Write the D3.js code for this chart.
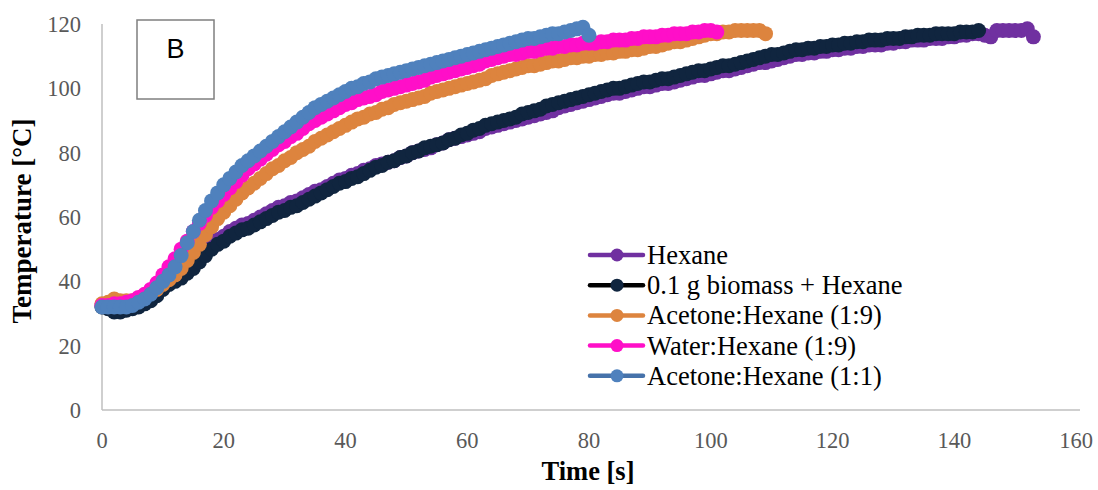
<!DOCTYPE html>
<html>
<head>
<meta charset="utf-8">
<script src="https://cdn.jsdelivr.net/npm/d3@7"></script>
<style>
  body { margin: 0; background: #fff; }
  svg { display: block; }
</style>
</head>
<body>
<div id="chart"></div>
<script>
// temperature readings, one per second starting at t = 0
const hexane = [32.5,32.5,32,32,32,32.5,33,34,35,36.5,38,39.5,41,42.5,44,46,48,50,51.5,53,
  54,55.5,56.5,57.5,58,59,60,61,62,63,63.5,64.5,65,66,67,68,68.5,69.5,70.5,71.5,
  72,73,73.5,74.5,75,76,76.5,77,77.5,78.5,79,80,80.5,81,81.5,82.5,83,84,84.5,85,
  85.5,86,86.5,87.5,88,88.5,89,89.5,90,90.5,91,91.5,92,92.5,93,94,94.5,95,95.5,96,
  96.5,97,97.5,98,98.5,98.5,99,99.5,100,100.5,100.5,101,101.5,101.5,102,102.5,103,103.5,104,104,
  104.5,105,105.5,105.5,106,106.5,107,107.5,108,108,108.5,109,109.5,110,110.5,110.5,111,111,111.5,111.5,
  112,112,112.5,112.5,113,113,113.5,113.5,113.5,114,114,114.5,114.5,115,115,115,115.5,115.5,115.5,116,
  116,116.5,116.5,117,117,116.5,116,118,118,118,118,118,118.5,116];

const biomassHexane = [32,31.5,30.5,30.5,31,31.5,32,33,34,35.5,37.5,39,40,41,42.5,44,46,48,50,51.5,
  52.5,54,55,56,56.5,57.5,58.5,59.5,60.5,61.5,62,63,63.5,64.5,65.5,66.5,67.5,68.5,69.5,70.5,
  71,72,72.5,73.5,74.5,75.5,76,77,77.5,78.5,79,80,80.5,81.5,82,82.5,83,84,84.5,85.5,
  86,87,87.5,88.5,89,89.5,90,90.5,91,92,92.5,93,93.5,94.5,95,95.5,96,96.5,97,97.5,
  98,98.5,99,99.5,100,100,100.5,101,101.5,102,102,102.5,103,103,103.5,104,104.5,105,105.5,105.5,
  106,106.5,107,107,107.5,108,108.5,109,109.5,110,110.5,110.5,111,111.5,112,112,112.5,112.5,113,113,
  113.5,113.5,114,114,114.5,114.5,115,115,115,115.5,115.5,115.5,116,116,116.5,116.5,116.5,117,117,117,
  117,117.5,117.5,117.5,118];

const acetoneHexane19 = [33,33.5,34.5,34,34,34,34.5,35.5,36.5,37.5,39,40.5,42,44,46.5,49,51.5,54.5,57,59.5,
  61.5,63.5,65.5,67.5,69,70.5,72,73.5,75,76,77.5,78.5,80,81,82,83.5,84.5,85.5,86.5,87.5,
  88.5,89.5,90.5,91,92,92.5,93.5,94,95,95.5,96,96.5,97,97.5,98.5,99,99.5,100,100.5,101,
  101.5,102,102.5,103,104,104.5,105,105.5,106,106.5,107,107,107.5,108,108.5,108.5,109,109.5,109.5,110,
  110,110.5,110.5,111,111,111.5,111.5,112,112,112.5,113,113,113.5,114,114.5,114.5,115,115.5,116,116.5,
  117,117,117.5,117.5,118,118,118,118,118,117];

const waterHexane19 = [32.5,32.5,33,33,33.5,34,35,36,37.5,39.5,42,44.5,47,50,52.5,55.5,58,60.5,63,65,
  67,69,71,73,75,76.5,78,79.5,81,82.5,83.5,85,86,87.5,89,90,91,92,93,94,
  95,95.5,96.5,97,97.5,98,99,99.5,100,100.5,101,101.5,102,102.5,103.5,104,104.5,105,105.5,106,
  106.5,107,107.5,108.5,109,109.5,110,110.5,110.5,111,111.5,111.5,112,112.5,112.5,113,113,113.5,113.5,114,
  114,114,114.5,114.5,115,115,115,115.5,115.5,116,116,116,116.5,116.5,117,117,117,117.5,117.5,118,
  118,117.5];

const acetoneHexane11 = [32,32,32,32,32,32.5,33.5,34.5,36,38,40,42,44.5,48,52,55.5,59,62,65,67.5,
  70,72,74,76,77.5,79,80.5,82,83.5,85,86.5,88,89.5,91,92.5,94,95,96,97,98,
  99,100,100.5,101.5,102,103,103.5,104,104.5,105,105.5,106,106.5,107,107.5,108,108.5,109,109.5,110,
  110.5,111,111.5,112,112.5,113,113.5,114,114.5,115,115.5,115.5,116,116.5,117,117,117.5,118,118.5,119,
  116.5];

const seriesNames = ['Hexane', '0.1 g biomass + Hexane', 'Acetone:Hexane (1:9)', 'Water:Hexane (1:9)', 'Acetone:Hexane (1:1)'];
const seriesValues = [hexane, biomassHexane, acetoneHexane19, waterHexane19, acetoneHexane11];
const lineColors = ['#7030a0', '#000000', '#dd843e', '#ff0fc8', '#4672aa'];
const markerColors = ['#7030a0', '#10253f', '#dd843e', '#ff0fc8', '#4f81bd'];

const xTicks = [0, 20, 40, 60, 80, 100, 120, 140, 160];
const yTicks = [0, 20, 40, 60, 80, 100, 120];

const width = 1098, height = 490;
const margin = { left: 102, right: 22, top: 24, bottom: 80 };

const svg = d3.select('#chart').append('svg')
  .attr('width', width)
  .attr('height', height);

const x = d3.scaleLinear().domain([0, 160]).range([margin.left, width - margin.right]);
const y = d3.scaleLinear().domain([0, 120]).range([height - margin.bottom, margin.top]);

// axes lines (no tick marks, like excel)
svg.append('line')
  .attr('x1', x(0)).attr('x2', x(0))
  .attr('y1', y(120)).attr('y2', y(0))
  .attr('stroke', '#bfbfbf').attr('stroke-width', 1.5);
svg.append('line')
  .attr('x1', x(0)).attr('x2', x(160) + 4)
  .attr('y1', y(0)).attr('y2', y(0))
  .attr('stroke', '#bfbfbf').attr('stroke-width', 1.5);

// tick labels
svg.selectAll('.ylab').data(yTicks).enter().append('text')
  .attr('x', x(0) - 21)
  .attr('y', d => y(d) + 8)
  .attr('text-anchor', 'end')
  .attr('font-family', 'Liberation Serif, serif')
  .attr('font-size', 22.5)
  .attr('fill', '#595959')
  .text(d => d);

svg.selectAll('.xlab').data(xTicks).enter().append('text')
  .attr('x', d => x(d))
  .attr('y', y(0) + 38)
  .attr('text-anchor', 'middle')
  .attr('font-family', 'Liberation Serif, serif')
  .attr('font-size', 22.5)
  .attr('fill', '#595959')
  .text(d => d);

// axis titles
svg.append('text')
  .attr('x', x(80) - 1)
  .attr('y', 480)
  .attr('text-anchor', 'middle')
  .attr('font-family', 'Liberation Serif, serif')
  .attr('font-weight', 'bold')
  .attr('font-size', 26.5)
  .text('Time [s]');

svg.append('text')
  .attr('transform', `translate(31, ${y(60) + 4}) rotate(-90)`)
  .attr('text-anchor', 'middle')
  .attr('font-family', 'Liberation Serif, serif')
  .attr('font-weight', 'bold')
  .attr('font-size', 27)
  .text('Temperature [°C]');

// series: line first then markers, series by series
const line = d3.line()
  .x((d, i) => x(i))
  .y(d => y(d));

seriesValues.forEach((vals, k) => {
  const g = svg.append('g');
  g.append('path')
    .attr('d', line(vals))
    .attr('fill', 'none')
    .attr('stroke', lineColors[k])
    .attr('stroke-width', 5)
    .attr('stroke-linejoin', 'round');
  g.selectAll('circle').data(vals).enter().append('circle')
    .attr('cx', (d, i) => x(i))
    .attr('cy', d => y(d))
    .attr('r', 7.5)
    .attr('fill', markerColors[k]);
});

// panel label box
svg.append('rect')
  .attr('x', 137).attr('y', 20)
  .attr('width', 77).attr('height', 79)
  .attr('fill', '#fff')
  .attr('stroke', '#7f7f7f')
  .attr('stroke-width', 1.5);
svg.append('text')
  .attr('x', 175.5).attr('y', 58)
  .attr('text-anchor', 'middle')
  .attr('font-family', 'Liberation Sans, Arial, sans-serif')
  .attr('font-size', 27)
  .text('B');

// legend
const legend = svg.append('g');
seriesNames.forEach((name, k) => {
  const ly = 255 + k * 30.2;
  legend.append('line')
    .attr('x1', 590).attr('x2', 643)
    .attr('y1', ly).attr('y2', ly)
    .attr('stroke', lineColors[k])
    .attr('stroke-width', 4.5)
    .attr('stroke-linecap', 'round');
  legend.append('circle')
    .attr('cx', 617).attr('cy', ly)
    .attr('r', 6.5)
    .attr('fill', markerColors[k]);
  legend.append('text')
    .attr('x', 647).attr('y', ly + 9)
    .attr('font-family', 'Liberation Serif, serif')
    .attr('font-size', 26.5)
    .attr('fill', '#000')
    .text(name);
});
</script>
</body>
</html>
